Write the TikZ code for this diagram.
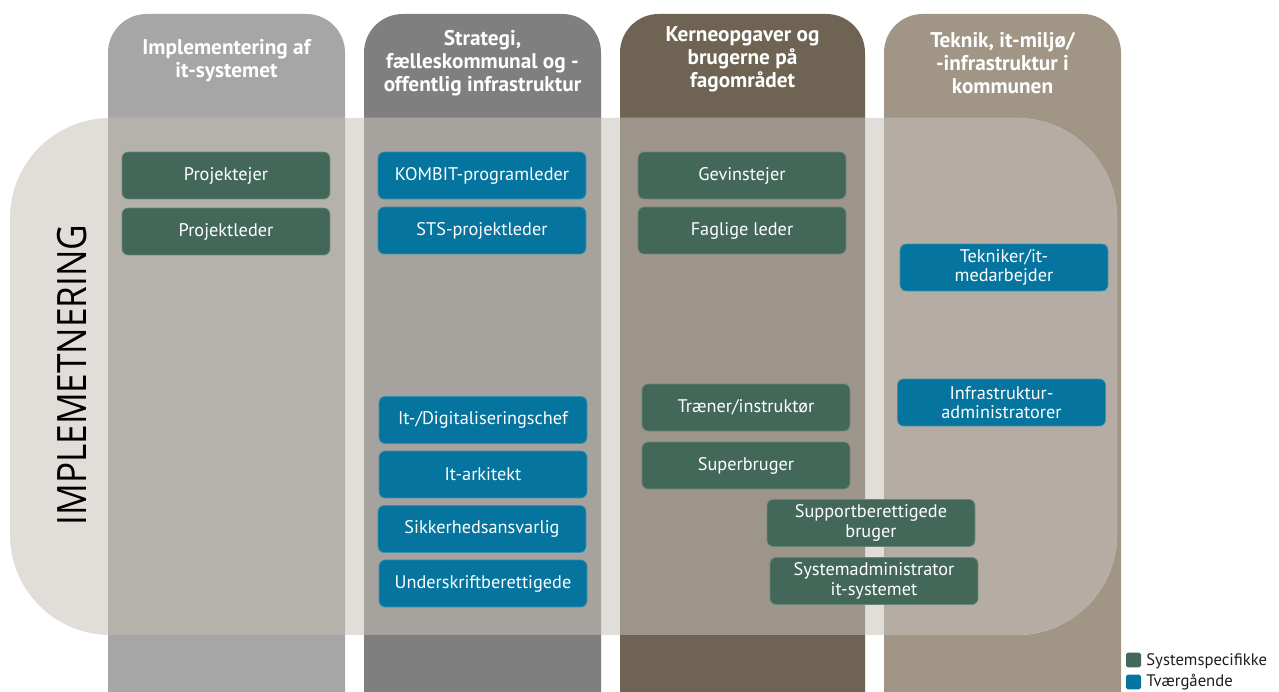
\documentclass[tikz,border=0pt]{standalone}
\usepackage{fontspec}
\setmainfont{PT Sans}
\newfontfamily\thinfont{Open Sans}
\definecolor{colA}{HTML}{A6A6A6}
\definecolor{colB}{HTML}{7F7F7F}
\definecolor{colC}{HTML}{6F6454}
\definecolor{colD}{HTML}{A19686}
\definecolor{colAin}{HTML}{B5B2AC}
\definecolor{colBin}{HTML}{A6A29D}
\definecolor{colCin}{HTML}{9E958A}
\definecolor{colDin}{HTML}{B5ADA3}
\definecolor{bandcol}{HTML}{E1DED9}
\definecolor{gcol}{HTML}{43685A}
\definecolor{bcol}{HTML}{05749E}
\definecolor{legtext}{HTML}{1E1E1E}
\tikzset{
  role/.style={rounded corners=3.5pt, text=white, align=center, inner sep=0pt,
    minimum width=4.16cm, minimum height=0.94cm,
    font=\fontsize{10.4}{11}\selectfont},
  gbox/.style={role, fill=gcol, draw=gcol!80!white, line width=0.4pt},
  bbox/.style={role, fill=bcol, draw=bcol!80!white, line width=0.4pt},
  head/.style={text=white, align=center, font=\bfseries\fontsize{12.1}{13}\selectfont, inner sep=0pt},
  legsq/.style={rounded corners=1pt, minimum size=0.3cm, inner sep=0pt},
  legtxt/.style={anchor=west, inner sep=0pt, text=legtext, font=\fontsize{9.5}{10}\selectfont}
}
\begin{document}
\begin{tikzpicture}[x=0.02cm,y=-0.02cm]
\useasboundingbox (0,0) rectangle (1279,692);
% columns
\fill[colA, rounded corners=22pt] (108,14) rectangle (345,760);
\fill[colB, rounded corners=22pt] (364,14) rectangle (601,760);
\fill[colC, rounded corners=22pt] (620,14) rectangle (865,760);
\fill[colD, rounded corners=22pt] (884,14) rectangle (1121,760);
% band
\fill[bandcol, rounded corners=57pt] (10,118) rectangle (1117,635);
\begin{scope}
\clip[rounded corners=57pt] (10,118) rectangle (1117,635);
\fill[colAin, rounded corners=22pt] (108,14) rectangle (345,760);
\fill[colBin, rounded corners=22pt] (364,14) rectangle (601,760);
\fill[colCin, rounded corners=22pt] (620,14) rectangle (865,760);
\fill[colDin, rounded corners=22pt] (884,14) rectangle (1121,760);
\end{scope}
% headers
\node[head] (h1) at (226.5,61) {Implementering af\\it-systemet};
\node[head] (h2) at (482.5,63) {Strategi,\\fælleskommunal og -\\offentlig infrastruktur};
\node[head] (h3) at (742.5,59) {Kerneopgaver og\\brugerne på\\fagområdet};
\node[head] (h4) at (1002.5,63) {Teknik, it-miljø/\\-infrastruktur i\\kommunen};
% side label
\node[rotate=90, font=\thinfont\fontsize{23}{26}\selectfont, text=black, inner sep=0pt] (impl) at (72,375) {\scalebox{0.87}[1]{IMPLEMETNERING}};
% column 1
\node[gbox] (projektejer) at (226,175.5) {Projektejer};
\node[gbox] (projektleder) at (226,231.5) {Projektleder};
% column 2
\node[bbox] (kombit) at (482,175.5) {KOMBIT-programleder};
\node[bbox] (sts) at (482,230.5) {STS-projektleder};
\node[bbox] (digichef) at (483,420) {It-/Digitaliseringschef};
\node[bbox] (arkitekt) at (483,474.5) {It-arkitekt};
\node[bbox] (sikker) at (482,529) {Sikkerhedsansvarlig};
\node[bbox] (underskrift) at (483,583.5) {Underskriftberettigede};
% column 3
\node[gbox] (gevinst) at (742,175.5) {Gevinstejer};
\node[gbox] (faglig) at (742,230.5) {Faglige leder};
\node[gbox] (traener) at (746,407.5) {Træner/instruktør};
\node[gbox] (super) at (746,465.5) {Superbruger};
\node[gbox] (support) at (871,523) {Supportberettigede\\bruger};
\node[gbox] (sysadm) at (874,581) {Systemadministrator\\it-systemet};
% column 4
\node[bbox] (tekniker) at (1004,267.5) {Tekniker/it-\\medarbejder};
\node[bbox] (infra) at (1001.5,402.5) {Infrastruktur-\\administratorer};
% legend
\node[legsq, fill=gcol] (lg1) at (1133.5,660) {};
\node[legtxt] (lt1) at (1146,661) {Systemspecifikke};
\node[legsq, fill=bcol] (lg2) at (1133.5,682) {};
\node[legtxt] (lt2) at (1146,682) {Tværgående};
\end{tikzpicture}
\end{document}
